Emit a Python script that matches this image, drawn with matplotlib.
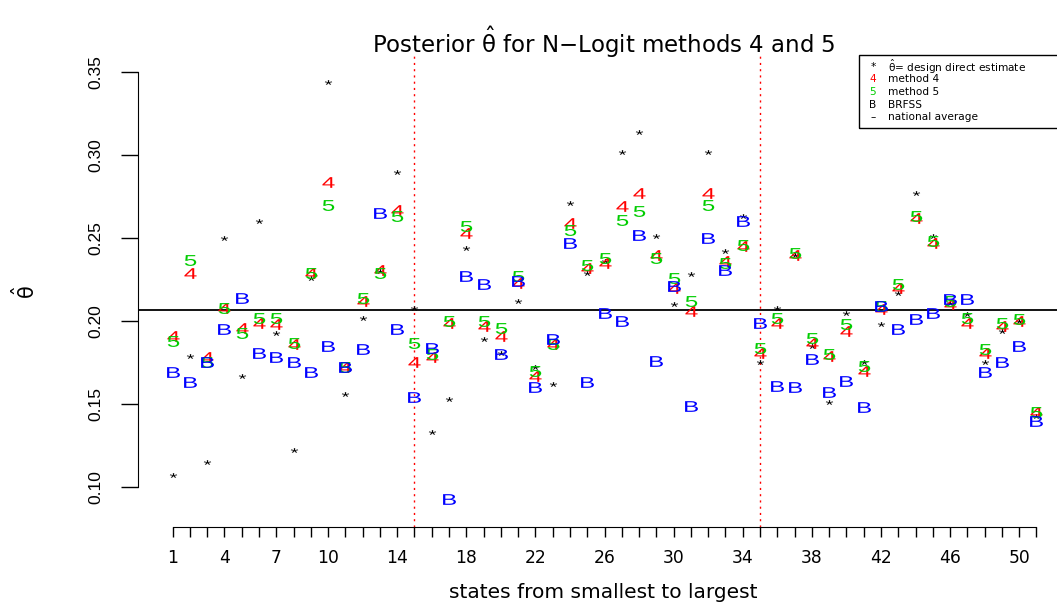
import numpy as np
import matplotlib.pyplot as plt
from matplotlib.textpath import TextPath
from matplotlib.font_manager import FontProperties
from matplotlib.path import Path
from matplotlib.patches import Rectangle

# states ordered from smallest to largest
states = np.arange(1, 52)
direct = [0.107, 0.179, 0.115, 0.250, 0.167, 0.260, 0.193, 0.122, 0.226, 0.344,
          0.156, 0.202, 0.230, 0.290, 0.208, 0.133, 0.153, 0.244, 0.189, 0.181,
          0.212, 0.172, 0.162, 0.271, 0.229, 0.236, 0.302, 0.314, 0.251, 0.210,
          0.228, 0.302, 0.242, 0.263, 0.175, 0.208, 0.240, 0.185, 0.151, 0.205,
          0.175, 0.198, 0.217, 0.277, 0.251, 0.211, 0.204, 0.175, 0.194, 0.200,
          0.143]
method4 = [0.191, 0.229, 0.178, 0.208, 0.196, 0.199, 0.198, 0.186, 0.229, 0.284,
           0.172, 0.212, 0.231, 0.267, 0.175, 0.178, 0.199, 0.253, 0.197, 0.191,
           0.223, 0.167, 0.186, 0.259, 0.232, 0.235, 0.269, 0.277, 0.240, 0.220,
           0.206, 0.277, 0.236, 0.245, 0.181, 0.199, 0.240, 0.187, 0.179, 0.194,
           0.170, 0.207, 0.220, 0.262, 0.247, 0.210, 0.199, 0.181, 0.197, 0.200,
           0.145]
method5 = [0.188, 0.237, 0.175, 0.208, 0.193, 0.202, 0.202, 0.187, 0.229, 0.270,
           0.172, 0.214, 0.229, 0.263, 0.187, 0.180, 0.200, 0.257, 0.200, 0.196,
           0.227, 0.170, 0.186, 0.255, 0.234, 0.238, 0.261, 0.266, 0.238, 0.226,
           0.212, 0.270, 0.235, 0.246, 0.184, 0.202, 0.241, 0.190, 0.180, 0.198,
           0.173, 0.209, 0.222, 0.263, 0.248, 0.212, 0.202, 0.183, 0.199, 0.201,
           0.145]
brfss = [0.169, 0.163, 0.175, 0.195, 0.214, 0.181, 0.178, 0.175, 0.169, 0.185,
         0.172, 0.183, 0.265, 0.195, 0.154, 0.184, 0.093, 0.227, 0.222, 0.180,
         0.224, 0.160, 0.189, 0.247, 0.163, 0.205, 0.200, 0.252, 0.176, 0.221,
         0.149, 0.250, 0.231, 0.260, 0.199, 0.161, 0.160, 0.177, 0.157, 0.164,
         0.148, 0.209, 0.195, 0.201, 0.205, 0.213, 0.213, 0.169, 0.175, 0.185,
         0.140]
national_avg = 0.2066
size_breaks = [15, 35]
shown_xlabels = [1, 4, 7, 10, 14, 18, 22, 26, 30, 34, 38, 42, 46, 50]
yticks = [0.10, 0.15, 0.20, 0.25, 0.30, 0.35]

plt.rcParams['font.family'] = 'DejaVu Sans'

# R draws the plotting characters as text; build wide glyph markers like the picture
glyph_font = FontProperties(family='Liberation Sans')


def char_marker(ch, stretch=1.55):
    tp = TextPath((0, 0), ch, size=1, prop=glyph_font)
    ext = tp.get_extents()
    v = tp.vertices.copy()
    v[:, 0] = (v[:, 0] - (ext.x0 + ext.x1) / 2) * stretch
    v[:, 1] = v[:, 1] - (ext.y0 + ext.y1) / 2
    return Path(v, tp.codes), np.abs(v).max()


fig = plt.figure(figsize=(10.57, 6.02), dpi=100)
ax = fig.add_axes([138 / 1057, 75 / 602, 933 / 1057, 472 / 602])
ax.set_xlim(-1, 53)
ax.set_ylim(0.0759, 0.3602)

for xb in size_breaks:
    ax.axvline(xb, color='red', lw=1, ls=(0, (1.5, 3)))
ax.axhline(national_avg, color='black', lw=1.3)

em = 11.2  # glyph em size in points
series = [(direct, '*', 'black', 0.85), (method4, '4', 'red', 1.0),
          (method5, '5', '#00CD00', 1.0), (brfss, 'B', 'blue', 1.0)]
for vals, ch, col, k in series:
    mk, m = char_marker(ch)
    ax.scatter(states, vals, marker=mk, s=(2 * m * em * k) ** 2, color=col,
               linewidths=0, zorder=3)

# axes in R style
ax.spines[['top', 'right']].set_visible(False)
ax.spines['left'].set_bounds(0.10, 0.35)
ax.spines['bottom'].set_bounds(1, 51)
ax.set_yticks(yticks)
ax.set_yticklabels(['%.2f' % t for t in yticks], rotation=90, va='center',
                   family='Liberation Sans', fontsize=12.5)
ax.tick_params(axis='y', length=12, width=1, pad=13)
ax.set_xticks(states)
ax.set_xticklabels([str(s) if s in shown_xlabels else '' for s in states], fontsize=12.3)
ax.tick_params(axis='x', length=7.2, width=1, pad=8.4)

fig.text(604 / 1057, 1 - 53 / 602, r'Posterior $\hat{\mathrm{\theta}}$ for N$-$Logit methods 4 and 5',
         ha='center', va='baseline', fontsize=16.5)
fig.text(603 / 1057, 1 - 592 / 602, 'states from smallest to largest',
         ha='center', va='center', fontsize=14.5)
fig.text(25 / 1057, 1 - 292 / 602, r'$\hat{\mathrm{\theta}}$', rotation=90,
         ha='center', va='center', fontsize=15)

# legend box (top right, runs past the edge of the figure)
lx0 = (859 - 138) / 933
lbot = (527 - 128) / 472
ax.add_patch(Rectangle((lx0, lbot), 0.4, 1 - lbot, transform=ax.transAxes,
                       fill=False, ec='black', lw=1, clip_on=False))
leg_rows = [('*', 'black', r'$\hat{\mathrm{\theta}}$= design direct estimate'),
            ('4', 'red', 'method 4'),
            ('5', '#00CD00', 'method 5'),
            ('B', 'black', 'BRFSS'),
            ('\u2013', 'black', 'national average')]
row_y = [67, 79.5, 92, 104.5, 117]
for (sym, col, lab), yy in zip(leg_rows, row_y):
    fy = (527 - yy) / 472
    ax.text((873 - 138) / 933, fy, sym, color=col, fontsize=7.6, ha='center', va='center',
            transform=ax.transAxes, clip_on=False)
    ax.text((888 - 138) / 933, fy, lab, color='black', fontsize=7.6, ha='left', va='center',
            transform=ax.transAxes, clip_on=False)

fig.savefig('out.png', dpi=100)
